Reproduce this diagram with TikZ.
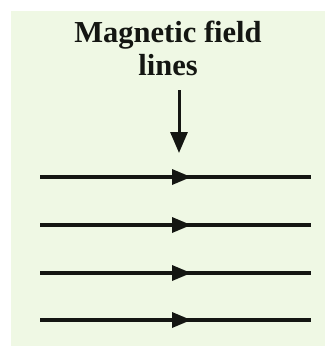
\documentclass[tikz,border=0pt]{standalone}
\usepackage{fontspec}
\setmainfont{Liberation Serif}
\usetikzlibrary{arrows.meta}
\definecolor{bggreen}{RGB}{239,248,228}
\definecolor{ink}{RGB}{20,22,18}
\begin{document}
\begin{tikzpicture}[x=1pt,y=-1pt,
  fieldline/.style={draw=ink,line width=3.6pt},
  midhead/.style={fill=ink},
  label/.style={align=center,font=\fontsize{30.5}{33}\selectfont\bfseries,text=ink,inner sep=0pt}]
\useasboundingbox (0,0) rectangle (325,346);
\fill[bggreen] (11,11) rectangle (325,346);
\node[label,anchor=base] (title) at (168,75) {Magnetic field\\lines};
\coordinate (ta) at (179,90);
\coordinate (tb) at (179,153);
\draw[fieldline,line width=3pt,-{Triangle[length=21pt,width=17pt]}] (ta) -- (tb);
\foreach \y/\n in {177/1,225/2,273/3,320/4}{
  \coordinate (l\n) at (40,\y);
  \coordinate (r\n) at (311,\y);
  \draw[fieldline] (l\n) -- (r\n);
  \fill[midhead] (172,\y-8) -- (191,\y) -- (172,\y+8) -- cycle;
}
\end{tikzpicture}
\end{document}
